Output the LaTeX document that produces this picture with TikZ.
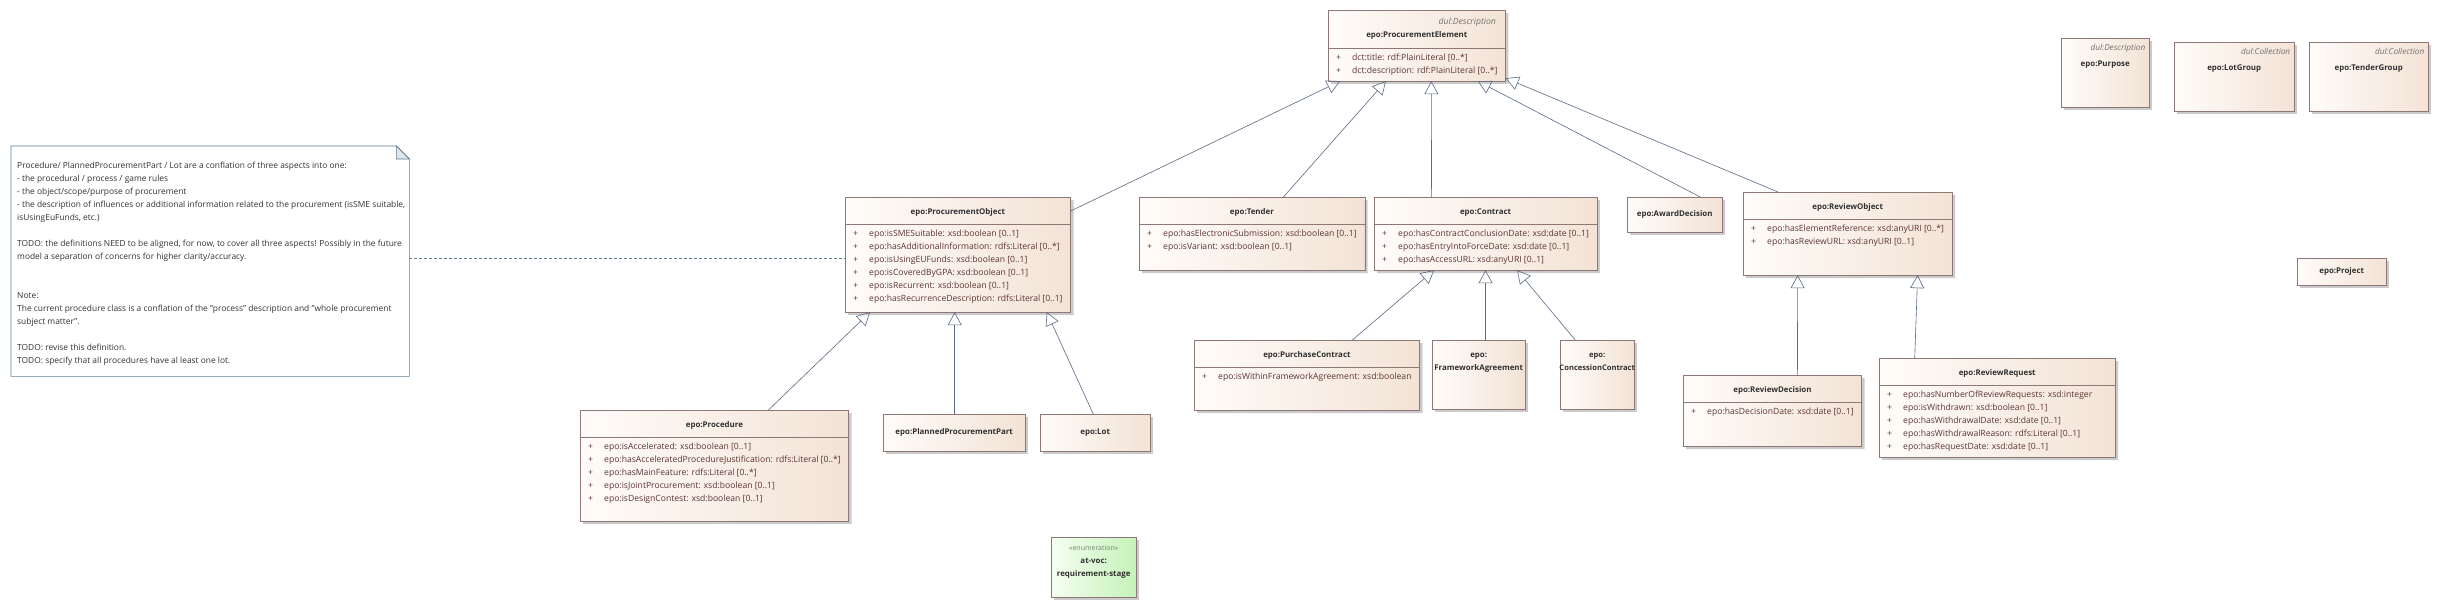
\documentclass[tikz,border=0pt]{standalone}
\usepackage{fontspec}
\setmainfont{Open Sans}
\usetikzlibrary{positioning,arrows.meta,shapes.multipart,shadows}

\definecolor{clsline}{HTML}{8E7777}
\definecolor{clsA}{HTML}{FFFCF9}
\definecolor{clsB}{HTML}{F3E3D6}
\definecolor{attrtxt}{HTML}{5C3434}
\definecolor{ttltxt}{HTML}{303030}
\definecolor{stereo}{HTML}{707070}
\definecolor{lnk}{HTML}{5A6A84}
\definecolor{notebdr}{HTML}{5D7F94}
\definecolor{notetxt}{HTML}{333333}
\definecolor{enumA}{HTML}{F5FFF2}
\definecolor{enumB}{HTML}{C6F2B8}
\definecolor{enumtxt}{HTML}{6E8A6E}

\newcommand{\titlefont}{\fontsize{7.9}{13}\selectfont\bfseries}
\newcommand{\clsname}[1]{{\titlefont\color{ttltxt}\rule[-7pt]{0pt}{21pt}#1}}
\newcommand{\pl}{\strut\makebox[16pt][l]{+}}
\newcommand{\gap}[1]{\rule[-#1pt]{0pt}{0pt}}

\begin{document}
\begin{tikzpicture}[x=1pt, y=-1pt,
  font=\fontsize{8.6}{13}\selectfont,
  clsfill/.style={left color=clsA, right color=clsB,
                  drop shadow={shadow xshift=3pt, shadow yshift=-3pt, fill=black!45, opacity=.45}},
  cls/.style={rectangle split, rectangle split parts=2,
              rectangle split part align={center,left}, align=left,
              draw=clsline, clsfill, text=attrtxt, anchor=north west,
              inner xsep=8pt, inner ysep=3pt},
  box/.style={draw=clsline, clsfill, anchor=north west, inner sep=0pt},
  namebox/.style={box, font=\titlefont, text=ttltxt},
  lbl/.style={font=\titlefont, text=ttltxt, align=center, inner sep=0pt},
  notetxt/.style={font=\fontsize{8.4}{13}\selectfont, text=notetxt, align=left, inner sep=0pt},
  gen/.style={draw=lnk, line width=0.6pt, -{Triangle[open, length=13pt, width=14pt]}},
  dep/.style={draw=notebdr, line width=0.6pt, dash pattern=on 3pt off 2pt},
]
\path[fill=white] (0,0) rectangle (2440,607);
\useasboundingbox (0,0) rectangle (2440,607);

% note
\node[anchor=north west, minimum width=398, minimum height=230, inner sep=0pt] (note) at (11,146) {};
\draw[draw=notebdr, fill=white, line width=0.6pt] (note.south west) -- (note.north west)
  -- ([xshift=-13pt]note.north east) -- ([yshift=-13pt]note.north east) -- (note.south east) -- cycle;
\draw[draw=notebdr, fill=notebdr!20, line width=0.6pt] ([xshift=-13pt]note.north east)
  -- ([xshift=-13pt, yshift=-13pt]note.north east) -- ([yshift=-13pt]note.north east) -- cycle;
\node[notetxt, below right=13pt and 6pt of note.north west] (notetext) {\strut Procedure/ PlannedProcurementPart / Lot are a conflation of three aspects into one:\\
- the procedural / process / game rules\\
- the object/scope/purpose of procurement\\
- the description of influences or additional information related to the procurement (isSME suitable,\\
isUsingEuFunds, etc.)\\[13pt]
TODO: the definitions NEED to be aligned, for now, to cover all three aspects! Possibly in the future\\
model a separation of concerns for higher clarity/accuracy.\\[26pt]
Note:\\
The current procedure class is a conflation of the "process" description and "whole procurement\\
subject matter".\\[13pt]
TODO: revise this definition.\\
TODO: specify that all procedures have al least one lot.};

% classes
\node[cls, minimum width=174] (pe) at (1328,10) {\rule{0pt}{11pt}\makebox[158pt][r]{\color{stereo}\itshape dul:Description}\\
  \makebox[158pt]{\titlefont\color{ttltxt}epo:ProcurementElement}\gap{8}
  \nodepart{two}\pl dct:title: rdf:PlainLiteral [0..*]\\
  \pl dct:description: rdf:PlainLiteral [0..*]};
\node[cls, minimum width=217] (po) at (845,197) {\clsname{epo:ProcurementObject}
  \nodepart{two}\pl epo:isSMESuitable: xsd:boolean [0..1]\\
  \pl epo:hasAdditionalInformation: rdfs:Literal [0..*]\\
  \pl epo:isUsingEUFunds: xsd:boolean [0..1]\\
  \pl epo:isCoveredByGPA: xsd:boolean [0..1]\\
  \pl epo:isRecurrent: xsd:boolean [0..1]\\
  \pl epo:hasRecurrenceDescription: rdfs:Literal [0..1]\gap{6.9}};
\node[cls, minimum width=219] (td) at (1139,197) {\clsname{epo:Tender}
  \nodepart{two}\pl epo:hasElectronicSubmission: xsd:boolean [0..1]\\
  \pl epo:isVariant: xsd:boolean [0..1]\gap{16.9}};
\node[cls, minimum width=219] (ct) at (1374,197) {\clsname{epo:Contract}
  \nodepart{two}\pl epo:hasContractConclusionDate: xsd:date [0..1]\\
  \pl epo:hasEntryIntoForceDate: xsd:date [0..1]\\
  \pl epo:hasAccessURL: xsd:anyURI [0..1]};
\node[namebox, minimum width=95, minimum height=35] (ad) at (1627,197) {epo:AwardDecision};
\node[cls, minimum width=203] (ro) at (1743,192) {\clsname{epo:ReviewObject}
  \nodepart{two}\pl epo:hasElementReference: xsd:anyURI [0..*]\\
  \pl epo:hasReviewURL: xsd:anyURI [0..1]\gap{26.9}};
\node[cls, minimum width=264] (pr) at (580,410) {\clsname{epo:Procedure}
  \nodepart{two}\pl epo:isAccelerated: xsd:boolean [0..1]\\
  \pl epo:hasAcceleratedProcedureJustification: rdfs:Literal [0..*]\\
  \pl epo:hasMainFeature: rdfs:Literal [0..*]\\
  \pl epo:isJointProcurement: xsd:boolean [0..1]\\
  \pl epo:isDesignContest: xsd:boolean [0..1]\gap{15.9}};
\node[namebox, minimum width=142, minimum height=37] (ppp) at (883,414) {epo:PlannedProcurementPart};
\node[namebox, minimum width=110, minimum height=37] (lot) at (1040,414) {epo:Lot};
\node[cls, minimum width=221] (pc) at (1194,340) {\clsname{epo:PurchaseContract}
  \nodepart{two}\pl epo:isWithinFrameworkAgreement: xsd:boolean\gap{26.9}};
\node[box, minimum width=93, minimum height=69] (fa) at (1432,340) {};
\node[lbl, below=8.6pt of fa.north] (fa-t) {\strut epo:\\FrameworkAgreement};
\node[box, minimum width=74, minimum height=69] (cc) at (1560,340) {};
\node[lbl, font=\fontsize{7.6}{13}\selectfont\bfseries, below=8.6pt of cc.north] (cc-t) {\strut epo:\\ConcessionContract};
\node[cls, minimum width=173] (rd) at (1683,375) {\clsname{epo:ReviewDecision}
  \nodepart{two}\pl epo:hasDecisionDate: xsd:date [0..1]\gap{27.9}};
\node[cls, minimum width=236] (rr) at (1879,358) {\clsname{epo:ReviewRequest}
  \nodepart{two}\pl epo:hasNumberOfReviewRequests: xsd:integer\\
  \pl epo:isWithdrawn: xsd:boolean [0..1]\\
  \pl epo:hasWithdrawalDate: xsd:date [0..1]\\
  \pl epo:hasWithdrawalReason: rdfs:Literal [0..1]\\
  \pl epo:hasRequestDate: xsd:date [0..1]};

% enumeration
\node[box, left color=enumA, right color=enumB, minimum width=85, minimum height=60] (enum) at (1051,537) {};
\node[lbl, below=4.6pt of enum.north] (enum-t) {\strut{\mdseries\fontsize{7}{13}\selectfont\color{enumtxt}«enumeration»}\\at-voc:\\requirement-stage};

% stand-alone classes
\node[box, minimum width=88, minimum height=69] (pu) at (2061,38) {};
\node[lbl, below=3.6pt of pu.north] (pu-t) {\strut\makebox[80pt][r]{\mdseries\itshape\fontsize{8.2}{13}\selectfont\color{stereo}dul:Description}\\[3pt]epo:Purpose};
\node[box, minimum width=120, minimum height=69] (lg) at (2174,42) {};
\node[lbl, below=3.6pt of lg.north] (lg-t) {\strut\makebox[112pt][r]{\mdseries\itshape\fontsize{8.2}{13}\selectfont\color{stereo}dul:Collection}\\[3pt]epo:LotGroup};
\node[box, minimum width=119, minimum height=69] (tg) at (2309,42) {};
\node[lbl, below=3.6pt of tg.north] (tg-t) {\strut\makebox[111pt][r]{\mdseries\itshape\fontsize{8.2}{13}\selectfont\color{stereo}dul:Collection}\\[3pt]epo:TenderGroup};
\node[namebox, minimum width=89, minimum height=27] (pj) at (2297,258) {epo:Project};

% connectors
\draw[dep] ([yshift=3pt]note.east) -- ([yshift=3pt]note.east -| po.west);
\draw[gen] ([yshift=-14pt]po.north east) -- ([xshift=12pt]pe.south west);
\draw[gen] ([xshift=31.5pt]td.north) -- ([xshift=-31pt]pe.south);
\draw[gen] ([xshift=-54pt]ct.north) -- ([xshift=14.5pt]pe.south);
\draw[gen] ([xshift=25.5pt]ad.north) -- ([xshift=61pt]pe.south);
\draw[gen] ([xshift=35pt]ro.north west) -- ([yshift=3pt]pe.south east);
\draw[gen] ([xshift=54pt]pr.north) -- ([xshift=25pt]po.south west);
\draw[gen] ([xshift=0.5pt]ppp.north) -- ([xshift=0.5pt]ppp.north |- po.south);
\draw[gen] ([xshift=-2pt]lot.north) -- ([xshift=-24pt]po.south east);
\draw[gen] ([xshift=45.5pt]pc.north) -- ([xshift=-51.5pt]ct.south);
\draw[gen] (fa.north -| ct.south) -- (ct.south);
\draw[gen] ([xshift=-22pt]cc.north) -- ([xshift=31.5pt]ct.south);
\draw[gen] ([xshift=25pt]rd.north) -- ([xshift=-50pt]ro.south);
\draw[gen] ([xshift=-82.5pt]rr.north) -- ([xshift=70pt]ro.south);
\end{tikzpicture}
\end{document}
